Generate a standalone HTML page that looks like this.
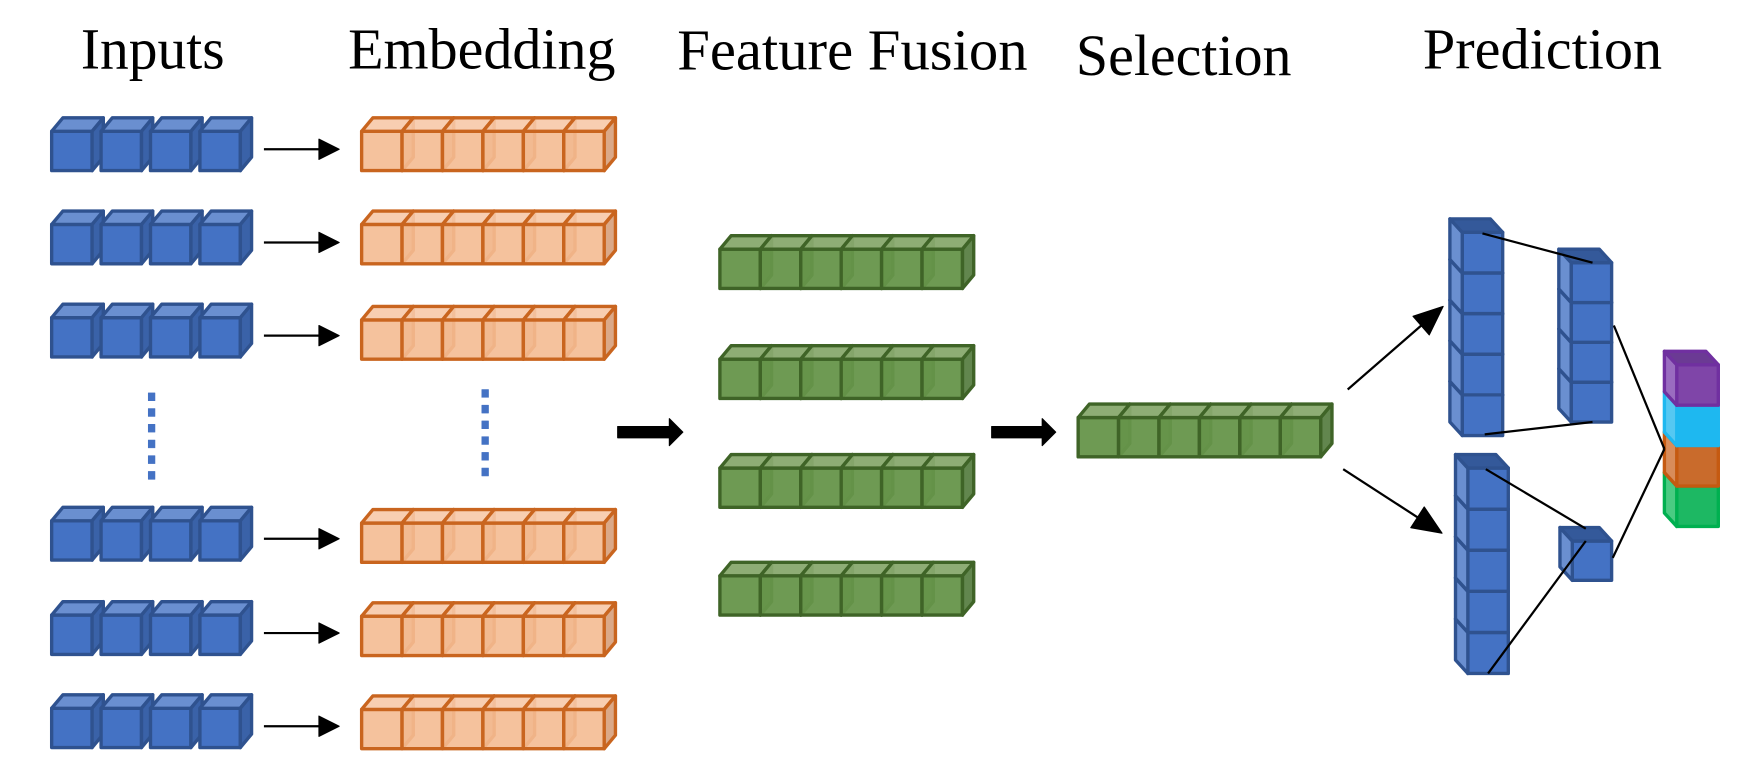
<!DOCTYPE html>
<html><head><meta charset="utf-8"><style>
html,body{margin:0;padding:0;background:#fff;}
svg{display:block;}
text{font-family:"Liberation Serif",serif;font-size:52px;fill:#000;}
</style></head><body>
<svg id="s" width="1752" height="770" viewBox="0 0 1560 686" preserveAspectRatio="none" xmlns="http://www.w3.org/2000/svg">
<text x="72" y="61" textLength="128" lengthAdjust="spacingAndGlyphs">Inputs</text>
<text x="310" y="61" textLength="238" lengthAdjust="spacingAndGlyphs">Embedding</text>
<text x="603" y="62" textLength="312" lengthAdjust="spacingAndGlyphs">Feature Fusion</text>
<text x="958" y="67" textLength="192" lengthAdjust="spacingAndGlyphs">Selection</text>
<text x="1267" y="61" textLength="213" lengthAdjust="spacingAndGlyphs">Prediction</text>
<g id="g"></g>
</svg>
<script>
var g=document.getElementById('g'),out='';
function P(pts,f,s,sw,op){out+='<polygon points="'+pts.map(function(p){return p[0]+','+p[1]}).join(' ')+'" fill="'+f+'"'+(op?' fill-opacity="'+op+'"':'')+' stroke="'+s+'" stroke-width="'+(sw||3)+'" stroke-linejoin="round"/>';}
function L(x1,y1,x2,y2,w,c){out+='<line x1="'+x1+'" y1="'+y1+'" x2="'+x2+'" y2="'+y2+'" stroke="'+(c||'#000')+'" stroke-width="'+(w||2)+'"/>';}
var C={
 blue:{f:'#4472C4',t:'#6A8FD0',sd:'#3A62A8',s:'#2F528F'},
 org:{f:'#F4BB92',t:'#F7C9A8',sd:'#D7A07B',s:'#C9651F',op:0.9},
 grn:{f:'#66954A',t:'#88A96E',sd:'#5A7F44',s:'#3F6427',op:0.95}
};
function hcube(x,y,w,h,c){var dx=10,dy=12;
 P([[x,y],[x+w,y],[x+w,y+h],[x,y+h]],c.f,c.s,3,c.op);
 P([[x,y],[x+dx,y-dy],[x+w+dx,y-dy],[x+w,y]],c.t,c.s,3,c.op);
 P([[x+w,y],[x+w+dx,y-dy],[x+w+dx,y+h-dy],[x+w,y+h]],c.sd,c.s,3,c.op);}
function hrow(x0,y,n,step,w,h,c){for(var i=0;i<n;i++)hcube(x0+i*step,y,w,h,c);}
function vcube(x,y,w,h,c){var dx=11,dy=12;
 P([[x,y],[x+w,y],[x+w,y+h],[x,y+h]],c.f,c.s);
 P([[x,y],[x-dx,y-dy],[x-dx,y+h-dy],[x,y+h]],c.sd,c.s);
 P([[x,y],[x+w,y],[x+w-dx,y-dy],[x-dx,y-dy]],c.t,c.s);}
function vcol(x,ytop,n,w,h,c){for(var i=n-1;i>=0;i--)vcube(x,ytop+i*h,w,h,c);}
function arrow(x1,y,x2){L(x1,y,x2-16,y,2);P([[x2-18,y-9],[x2,y],[x2-18,y+9]],'#000','#000',1);}
function arrowTo(x1,y1,x2,y2){var a=Math.atan2(y2-y1,x2-x1),l=26,hw=11;
 var bx=x2-l*Math.cos(a),by=y2-l*Math.sin(a);L(x1,y1,bx,by,2);
 P([[x2,y2],[bx+hw*Math.sin(a),by-hw*Math.cos(a)],[bx-hw*Math.sin(a),by+hw*Math.cos(a)]],'#000','#000',1);}
function thick(x1,y,x2){P([[x1,y-5],[x2-12,y-5],[x2-12,y-12],[x2,y],[x2-12,y+12],[x2-12,y+5],[x1,y+5]],'#000','#000',1);}
var rows=[117,200,283,464,548,631];
var orows=[117,200,285,466,549,632];
rows.forEach(function(y,i){
 hrow(46,y,4,44,36,35,C.blue);
 arrow(235,y+16,302);
 hrow(322,orows[i],6,36,36,35,C.org);
});
for(var yy=350;yy<430;yy+=14){P([[132,yy],[138,yy],[138,yy+7],[132,yy+7]],'#4472C4','#4472C4',0.5);}
for(var yy=347;yy<427;yy+=14){P([[429,yy],[435,yy],[435,yy+7],[429,yy+7]],'#4472C4','#4472C4',0.5);}
thick(550,385,608);
[222,320,417,513].forEach(function(y){hrow(641,y,6,36,36,35,C.grn);});
thick(883,385,940);
hrow(960,372,6,36,36,35,C.grn);
var B={f:'#4472C4',t:'#34599A',sd:'#6A8FD0',s:'#2F528F'};
arrowTo(1200,347,1285,273);
arrowTo(1196,418,1284,475);
vcol(1302,207,5,36,36.2,B);
vcol(1399,234,4,36,35.5,B);
vcol(1307,417,5,36,36.6,B);
vcube(1400,482,35,35,B);
var cols=[{f:'#7F45A8',t:'#6B3A94',sd:'#9A6CC0',s:'#7030A0'},{f:'#1EB8F0',t:'#1AA8DC',sd:'#55C8F2',s:'#1EB8F0'},{f:'#C96B2C',t:'#B45F24',sd:'#D88C5A',s:'#C55A11'},{f:'#1DB863',t:'#1AA458',sd:'#4ACB82',s:'#00B050'}];
for(var i=3;i>=0;i--)vcube(1493,325+i*36,37,36,cols[i]);
L(1320,208,1418,234,2);L(1322,387,1418,376,2);
L(1437,290,1482,400,2);L(1323,418,1412,471,2);
L(1325,600,1412,482,2);L(1436,497,1482,400,2);
g.innerHTML=out;
</script>
</body></html>
